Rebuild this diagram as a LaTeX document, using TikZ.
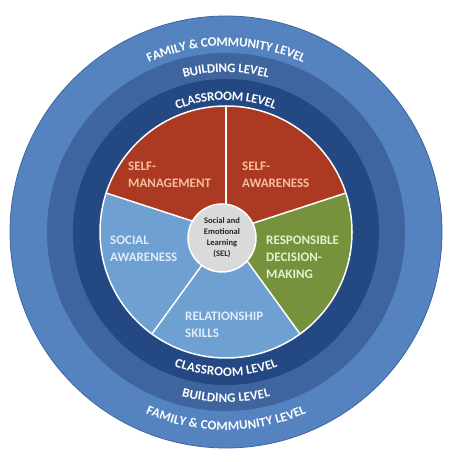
\documentclass[tikz,border=0pt]{standalone}
\usepackage{fontspec}
\setmainfont{Carlito}
\usetikzlibrary{decorations.text}
\definecolor{familyblue}{RGB}{84,131,192}
\definecolor{buildingblue}{RGB}{62,101,158}
\definecolor{classblue}{RGB}{36,73,130}
\definecolor{selred}{RGB}{172,58,34}
\definecolor{sellightblue}{RGB}{110,160,210}
\definecolor{selgreen}{RGB}{118,146,60}
\definecolor{centergray}{RGB}{218,218,218}
\definecolor{redtext}{RGB}{246,190,160}
\definecolor{bluetext}{RGB}{224,236,248}
\definecolor{greentext}{RGB}{228,240,208}
\newcommand{\ringfont}{\fontsize{13}{13}\selectfont\bfseries}

\begin{document}
\begin{tikzpicture}[x=1pt, y=1pt,
        ringlabel/.style={decorate, decoration={text along path, text align=center, raise=-4.2pt, text color=white, text={|\ringfont|#1}}},
        wedgelabel/.style={anchor=west, align=left, inner sep=0pt, font=\fontsize{13}{17}\selectfont\bfseries},
        centerlabel/.style={circle, fill=centergray, draw=white, line width=1.5pt, minimum size=68pt, inner sep=0pt, align=center, text=black!85, font=\fontsize{8.5}{11}\selectfont\bfseries}
    ]
        \useasboundingbox (0,0) rectangle (450,462);
        \coordinate (c) at (226,230);

        % levels
        \fill[familyblue, draw=buildingblue, line width=0.8pt] (c) circle (216);
        \fill[buildingblue] (c) circle (179);
        \fill[classblue] (c) circle (153);

        % five SEL wedges
        \foreach \s/\col in {18/selred, 90/selred, 162/sellightblue, 234/sellightblue, 306/selgreen}
            \fill[\col] (c) -- ++(\s:126) arc[start angle=\s, delta angle=72, radius=126] -- cycle;
        \foreach \s in {18, 90, 162, 234, 306}
            \draw[white, line width=1.5pt] (c) -- ++(\s:126);
        \draw[white, line width=1.5pt] (c) circle (126);

        % level names along the rings
        \path[ringlabel={FAMILY {\&} COMMUNITY LEVEL}] (c) ++(160:190) arc[start angle=160, end angle=20, radius=190];
        \path[ringlabel={BUILDING LEVEL}] (c) ++(160:164) arc[start angle=160, end angle=20, radius=164];
        \path[ringlabel={CLASSROOM LEVEL}] (c) ++(160:136) arc[start angle=160, end angle=20, radius=136];
        \path[ringlabel={CLASSROOM LEVEL}] (c) ++(200:140) arc[start angle=200, end angle=340, radius=140];
        \path[ringlabel={BUILDING LEVEL}] (c) ++(200:166) arc[start angle=200, end angle=340, radius=166];
        \path[ringlabel={FAMILY {\&} COMMUNITY LEVEL}] (c) ++(200:194) arc[start angle=200, end angle=340, radius=194];

        \node[wedgelabel, text=redtext] (selfman) at (128,287.5) {SELF-\\MANAGEMENT};
        \node[wedgelabel, text=redtext] (selfaware) at (242,287.5) {SELF-\\AWARENESS};
        \node[wedgelabel, text=bluetext] (socaware) at (110,213.5) {SOCIAL\\AWARENESS};
        \node[wedgelabel, text=greentext] (decision) at (266,204.5) {RESPONSIBLE\\DECISION-\\MAKING};
        \node[wedgelabel, text=bluetext] (relation) at (185,137) {RELATIONSHIP\\SKILLS};

        \node[centerlabel] (sel) at (222,224) {Social and\\Emotional\\Learning\\(SEL)};
    \end{tikzpicture}
\end{document}
